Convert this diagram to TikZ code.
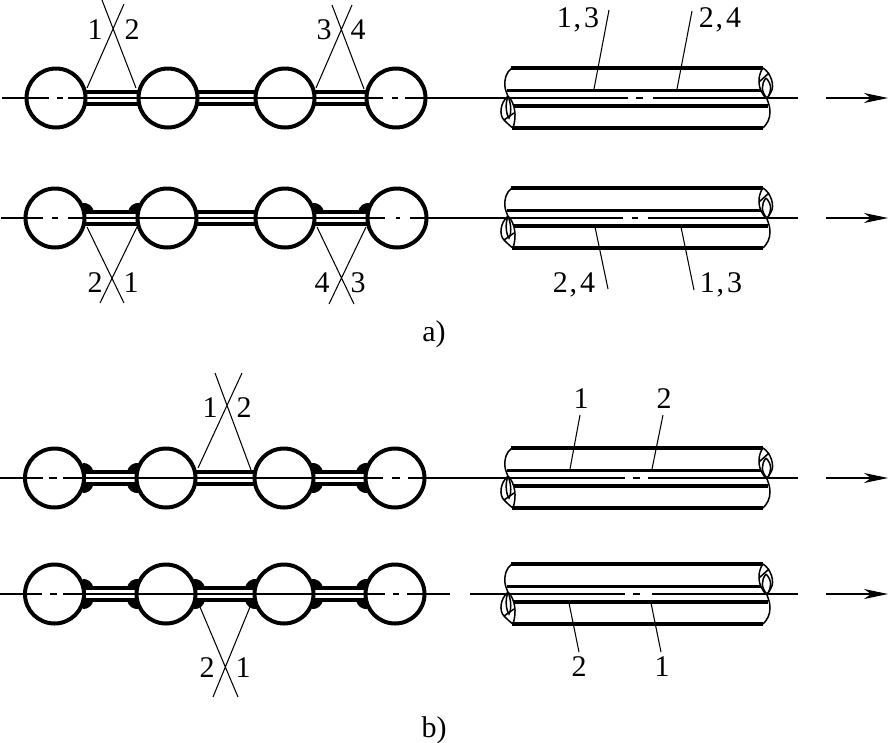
\documentclass[tikz,border=0pt]{standalone}
\usepackage{fontspec}
\setmainfont{Liberation Serif}
\usetikzlibrary{arrows.meta}
\tikzset{
  thinline/.style={line width=1.05pt,black},
  leader/.style={line width=1.05pt,black},
  tubeedge/.style={line width=3.6pt,black},
  outline/.style={line width=1.5pt,black},
  bar/.style={line width=4.2pt,black},
  ball/.style={circle,draw=black,fill=white,line width=4pt,minimum size=59pt,inner sep=0pt},
  lab/.style={inner sep=0pt,font=\fontsize{30}{30}\selectfont,text=black},
  weld/.style={fill=black,draw=none},
  flow/.style={line width=1.05pt,black,-{Stealth[length=24pt,width=10pt,inset=7pt]}}
}
\newcommand{\chain}[6]{%
  \node[ball,draw=none,fill=none] (#1a) at (#3,#2) {};
  \node[ball,draw=none,fill=none] (#1b) at (#4,#2) {};
  \node[ball,draw=none,fill=none] (#1c) at (#5,#2) {};
  \node[ball,draw=none,fill=none] (#1d) at (#6,#2) {};
  \foreach \p/\q in {a/b,b/c,c/d}{
    \draw[bar] ([yshift=6.3pt]#1\p.center) -- ([yshift=6.3pt]#1\q.center);
    \draw[bar] ([yshift=-6.3pt]#1\p.center) -- ([yshift=-6.3pt]#1\q.center);
  }
  \foreach \p in {a,b,c,d}{\node[ball] at (#1\p.center) {};}
}
% weld fillet at a ball: ball node, horizontal side (1/-1), vertical side (-1 top, 1 bottom)
\newcommand{\fillet}[3]{%
  \begin{scope}[shift={(#1.center)},xscale=#2,yscale=#3]
    \fill[weld] (28,15) .. controls (33,15.5) and (38,12) .. (39,6) -- (39,4.6) -- (28,4.6) -- cycle;
  \end{scope}
}
\newcommand{\tubes}[1]{%
 \begin{scope}[shift={(0,#1)}]
  \draw[tubeedge] (511,-30)--(763,-30);
  \draw[tubeedge] (507,-7.7)--(761,-7.7);
  \draw[tubeedge] (514,8.2)--(768,8.2);
  \draw[tubeedge] (512,30)--(763,30);
  \draw[outline] (512,-30) .. controls (506,-26) and (504,-18) .. (505,-11)
     .. controls (505.5,-7) and (507,-5) .. (508,-1);
  \draw[outline] (508,-2) .. controls (500,5) and (499,17) .. (504,22) .. controls (507,25) and (510,28) .. (513,30);
  \draw[outline] (508,-2) .. controls (515,5) and (517,18) .. (513,30);
  \draw[outline] (508,-2) .. controls (505,6) and (506,16) .. (509,20) .. controls (511,17) and (512,8) .. (508,-2);
  \draw[outline] (504,22) -- (514,15);
  \draw[outline] (763,-30) .. controls (771,-25) and (775,-12) .. (771,-6) .. controls (769.5,-3) and (768,-1) .. (767,1);
  \draw[outline] (763,-30) .. controls (757,-22) and (757,-8) .. (767,1);
  \draw[outline] (766,-20) .. controls (761,-14) and (761,-6) .. (767,0) .. controls (772,-6) and (772,-14) .. (766,-20);
  \draw[outline] (759,-16) -- (769,-25);
  \draw[outline] (767,1) .. controls (768,4) and (770,8) .. (770,14) .. controls (770,21) and (767,26) .. (763,30);
 \end{scope}
}
\newcommand{\axisleft}[9]{%
  \draw[thinline] (#2,#1)--(#3,#1) (#4,#1)--(#5,#1) (#6,#1)--(#7,#1) (#8,#1)--(#9,#1);
}
\begin{document}
\begin{tikzpicture}[x=1pt,y=-1pt]
\useasboundingbox (0,0) rectangle (888,742);
\fill[white] (0,0) rectangle (888,742);

% ---- chains
\chain{p}{98}{56}{168}{285}{396}
\chain{q}{218}{55}{167}{285}{397}
\chain{r}{478}{54.5}{166}{284}{395}
\chain{s}{594}{54.5}{166}{284}{395}

% ---- welds
\fillet{qa}{1}{-1}\fillet{qb}{-1}{-1}\fillet{qc}{1}{-1}\fillet{qd}{-1}{-1}
\foreach \v in {-1,1}{
  \fillet{ra}{1}{\v}\fillet{rb}{-1}{\v}\fillet{rc}{1}{\v}\fillet{rd}{-1}{\v}
  \fillet{sa}{1}{\v}\fillet{sb}{-1}{\v}\fillet{sb}{1}{\v}\fillet{sc}{-1}{\v}\fillet{sc}{1}{\v}\fillet{sd}{-1}{\v}
}

% ---- tube bundles
\tubes{98}\tubes{218}\tubes{478}\tubes{594}

% ---- axes
\axisleft{98}{2}{49}{57}{63}{68}{383}{392}{398}
\draw[thinline] (405,98)--(628,98) (636,98)--(643,98) (653,98)--(798,98);
\axisleft{218}{1}{43}{52}{58}{68}{385}{396}{400}
\draw[thinline] (410,218)--(623,218) (632,218)--(638,218) (648,218)--(798,218);
\axisleft{478}{0}{43}{49}{57}{63}{383}{392}{400}
\draw[thinline] (408,478)--(625,478) (633,478)--(640,478) (648,478)--(798,478);
\axisleft{594}{0}{42}{50}{57}{63}{385}{393}{399}
\draw[thinline] (407,594)--(450,594) (470,594)--(625,594) (633,594)--(640,594) (652,594)--(798,594);

% ---- flow arrows
\foreach \y/\n in {98/a,218/b,478/c,594/d}{
  \coordinate (fs\n) at (826,\y);
  \coordinate (fe\n) at (888,\y);
  \draw[flow] (fs\n) -- (fe\n);
}

% ---- leaders left
\draw[leader] (87,88)--(124,4) (136,88)--(102,0);
\draw[leader] (316,88)--(352,5) (364,89)--(332,5);
\draw[leader] (87,227)--(124,303) (137,227)--(100,303);
\draw[leader] (317,227)--(354,304) (366,227)--(329,304);
\draw[leader] (198,468)--(242,373) (251,470)--(215,373);
\draw[leader] (200,607)--(238,697) (250,607)--(213,697);
% ---- leaders right
\draw[leader] (609,10)--(594,89) (692,11)--(677,89);
\draw[leader] (595,227)--(608,289) (681,227)--(694,290);
\draw[leader] (570,469)--(580,415) (652,469)--(663,415);
\draw[leader] (569,603)--(579,652) (651,603)--(661,652);

% ---- labels
\node[lab] (l1) at (95,30) {1};
\node[lab] (l2) at (132,30) {2};
\node[lab] (l3) at (324,30) {3};
\node[lab] (l4) at (358,30) {4};
\node[lab] (l5) at (95,283) {2};
\node[lab] (l6) at (131,283) {1};
\node[lab] (l7) at (322,283) {4};
\node[lab] (l8) at (358,283) {3};
\node[lab] (l9) at (210,408) {1};
\node[lab] (l10) at (244,408) {2};
\node[lab] (l11) at (207,668) {2};
\node[lab] (l12) at (243,668) {1};
\node[lab,anchor=base] (l13) at (578,27) {1\kern2pt,\kern3pt 3};
\node[lab,anchor=base] (l14) at (720,27) {2\kern2pt,\kern3pt 4};
\node[lab,anchor=base] (l15) at (574,292) {2\kern2pt,\kern3pt 4};
\node[lab,anchor=base] (l16) at (721,292) {1\kern2pt,\kern3pt 3};
\node[lab] (l17) at (581,399) {1};
\node[lab] (l18) at (664,399) {2};
\node[lab] (l19) at (579,667) {2};
\node[lab] (l20) at (662,667) {1};
\node[lab] (l21) at (434,334) {a)};
\node[lab] (l22) at (434,730) {b)};
\end{tikzpicture}
\end{document}
